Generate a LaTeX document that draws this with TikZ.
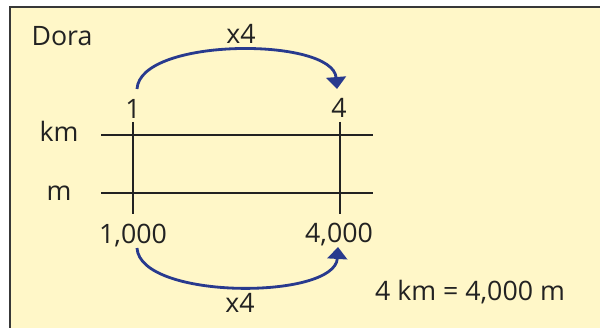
\documentclass[tikz,border=0pt]{standalone}
\usepackage{fontspec}
\setmainfont{Open Sans}
\usetikzlibrary{arrows.meta,positioning}
\definecolor{paper}{HTML}{FFF7C8}
\definecolor{arcblue}{HTML}{283A8E}
\definecolor{ink}{HTML}{222222}
\tikzset{
  lbl/.style={anchor=base, inner sep=0pt, text=ink, font=\fontsize{19}{22}\selectfont},
  axis/.style={ink, line width=1.9pt},
  arc/.style={arcblue, line width=2pt, -{Triangle[width=14pt,length=8.5pt]}},
}
\begin{document}
\begin{tikzpicture}[x=0.025cm,y=-0.025cm]
\useasboundingbox (0,0) rectangle (600,328);
\fill[paper] (10,7) rectangle (600,328);
\draw[ink!90, line width=1.5pt] (10,328) -- (10,7) -- (600,7);
\node[lbl] (dora) at (62,46) {Dora};
\node[lbl] (km) at (59,142) {km};
\node[lbl] (m) at (59,200) {m};
\node[lbl] (n1) at (133,119) {1};
\node[lbl] (n4) at (339,118) {4};
\node[lbl] (n1000) at (133,243) {1,000};
\node[lbl] (n4000) at (339,242) {4,000};
\coordinate (kmL) at (101,135);
\coordinate (kmR) at (373,135);
\coordinate (mL) at (101,193);
\coordinate (mR) at (373,193);
\draw[axis] (kmL) -- (kmR);
\draw[axis] (mL) -- (mR);
\draw[axis] (133,122) -- (133,214);
\draw[axis] (340,122) -- (340,214);
\draw[arc] ([shift={(4,-30)}]n1.base) .. controls (140,37) and (333,37) .. ([shift={(-2,-29)}]n4.base);
\node[lbl] (topx) at (241,44) {x4};
\draw[arc] ([shift={(4,5)}]n1000.base) .. controls (140,300) and (335,300) .. ([shift={(-1,5)}]n4000.base);
\node[lbl] (botx) at (240,312) {x4};
\node[lbl] (eq) at (470,300) {4 km = 4,000 m};
\end{tikzpicture}
\end{document}
